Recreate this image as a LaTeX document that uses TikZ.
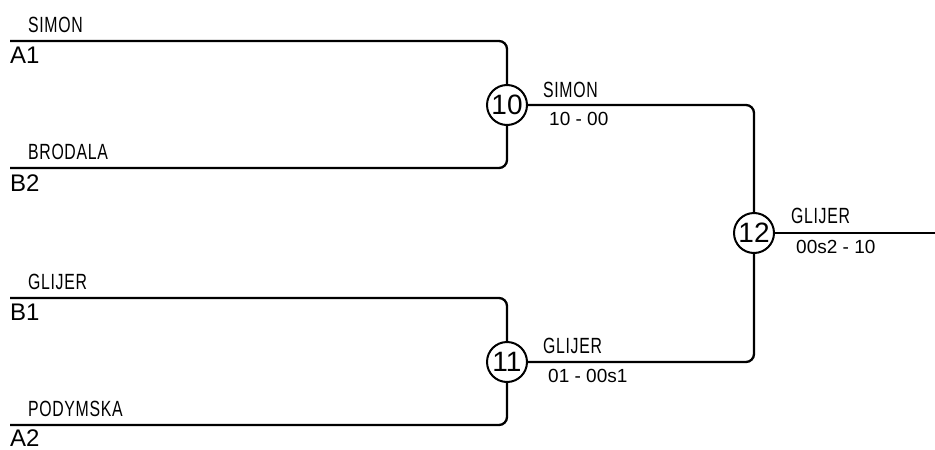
\documentclass[tikz,border=0pt]{standalone}
\usepackage{fontspec}
\setmainfont{Liberation Sans}
\newfontfamily\namefont[FakeStretch=0.72,LetterSpace=3]{Liberation Sans}
\begin{document}
\begin{tikzpicture}[x=1pt,y=-1pt,
  bline/.style={line width=2.3pt,rounded corners=8pt},
  matchc/.style={circle,draw,line width=2pt,fill=white,minimum size=40pt,inner sep=0pt,font=\fontsize{28}{28}\selectfont},
  pname/.style={anchor=base west,inner sep=0pt,font=\namefont\fontsize{22}{22}\selectfont},
  seed/.style={anchor=base west,inner sep=0pt,font=\fontsize{24}{24}\selectfont},
  score/.style={anchor=base west,inner sep=0pt,font=\fontsize{19}{19}\selectfont}]
\useasboundingbox (0,0) rectangle (935,450);
% start coordinates
\coordinate (s1) at (10,41);
\coordinate (s2) at (10,168);
\coordinate (s3) at (10,298);
\coordinate (s4) at (10,425);
\coordinate (out) at (935,233);
% lines
\draw[bline] (s1) -- (507,41) -- (507,168) -- (s2);
\draw[bline] (s3) -- (507,298) -- (507,425) -- (s4);
\draw[bline] (507,105) -- (754,105) -- (754,362) -- (507,362);
\draw[bline] (754,233) -- (out);
% circles
\node[matchc] (m10) at (507,105) {10};
\node[matchc] (m11) at (507,362) {11};
\node[matchc] (m12) at (754,233) {12};
% player names
\node[pname] (n1) at (28,32) {SIMON};
\node[pname] (n2) at (28,159) {BRODALA};
\node[pname] (n3) at (28,289) {GLIJER};
\node[pname] (n4) at (28,416) {PODYMSKA};
% seeds
\node[seed] (d1) at (10,63) {A1};
\node[seed] (d2) at (10,191) {B2};
\node[seed] (d3) at (10,320) {B1};
\node[seed] (d4) at (10,446) {A2};
% winners
\node[pname] (w10) at (543,97) {SIMON};
\node[pname] (w11) at (543,353) {GLIJER};
\node[pname] (w12) at (791,223) {GLIJER};
% scores
\node[score] (r10) at (549,125) {10 - 00};
\node[score] (r11) at (548,382) {01 - 00s1};
\node[score] (r12) at (796,253) {00s2 - 10};
\end{tikzpicture}
\end{document}
